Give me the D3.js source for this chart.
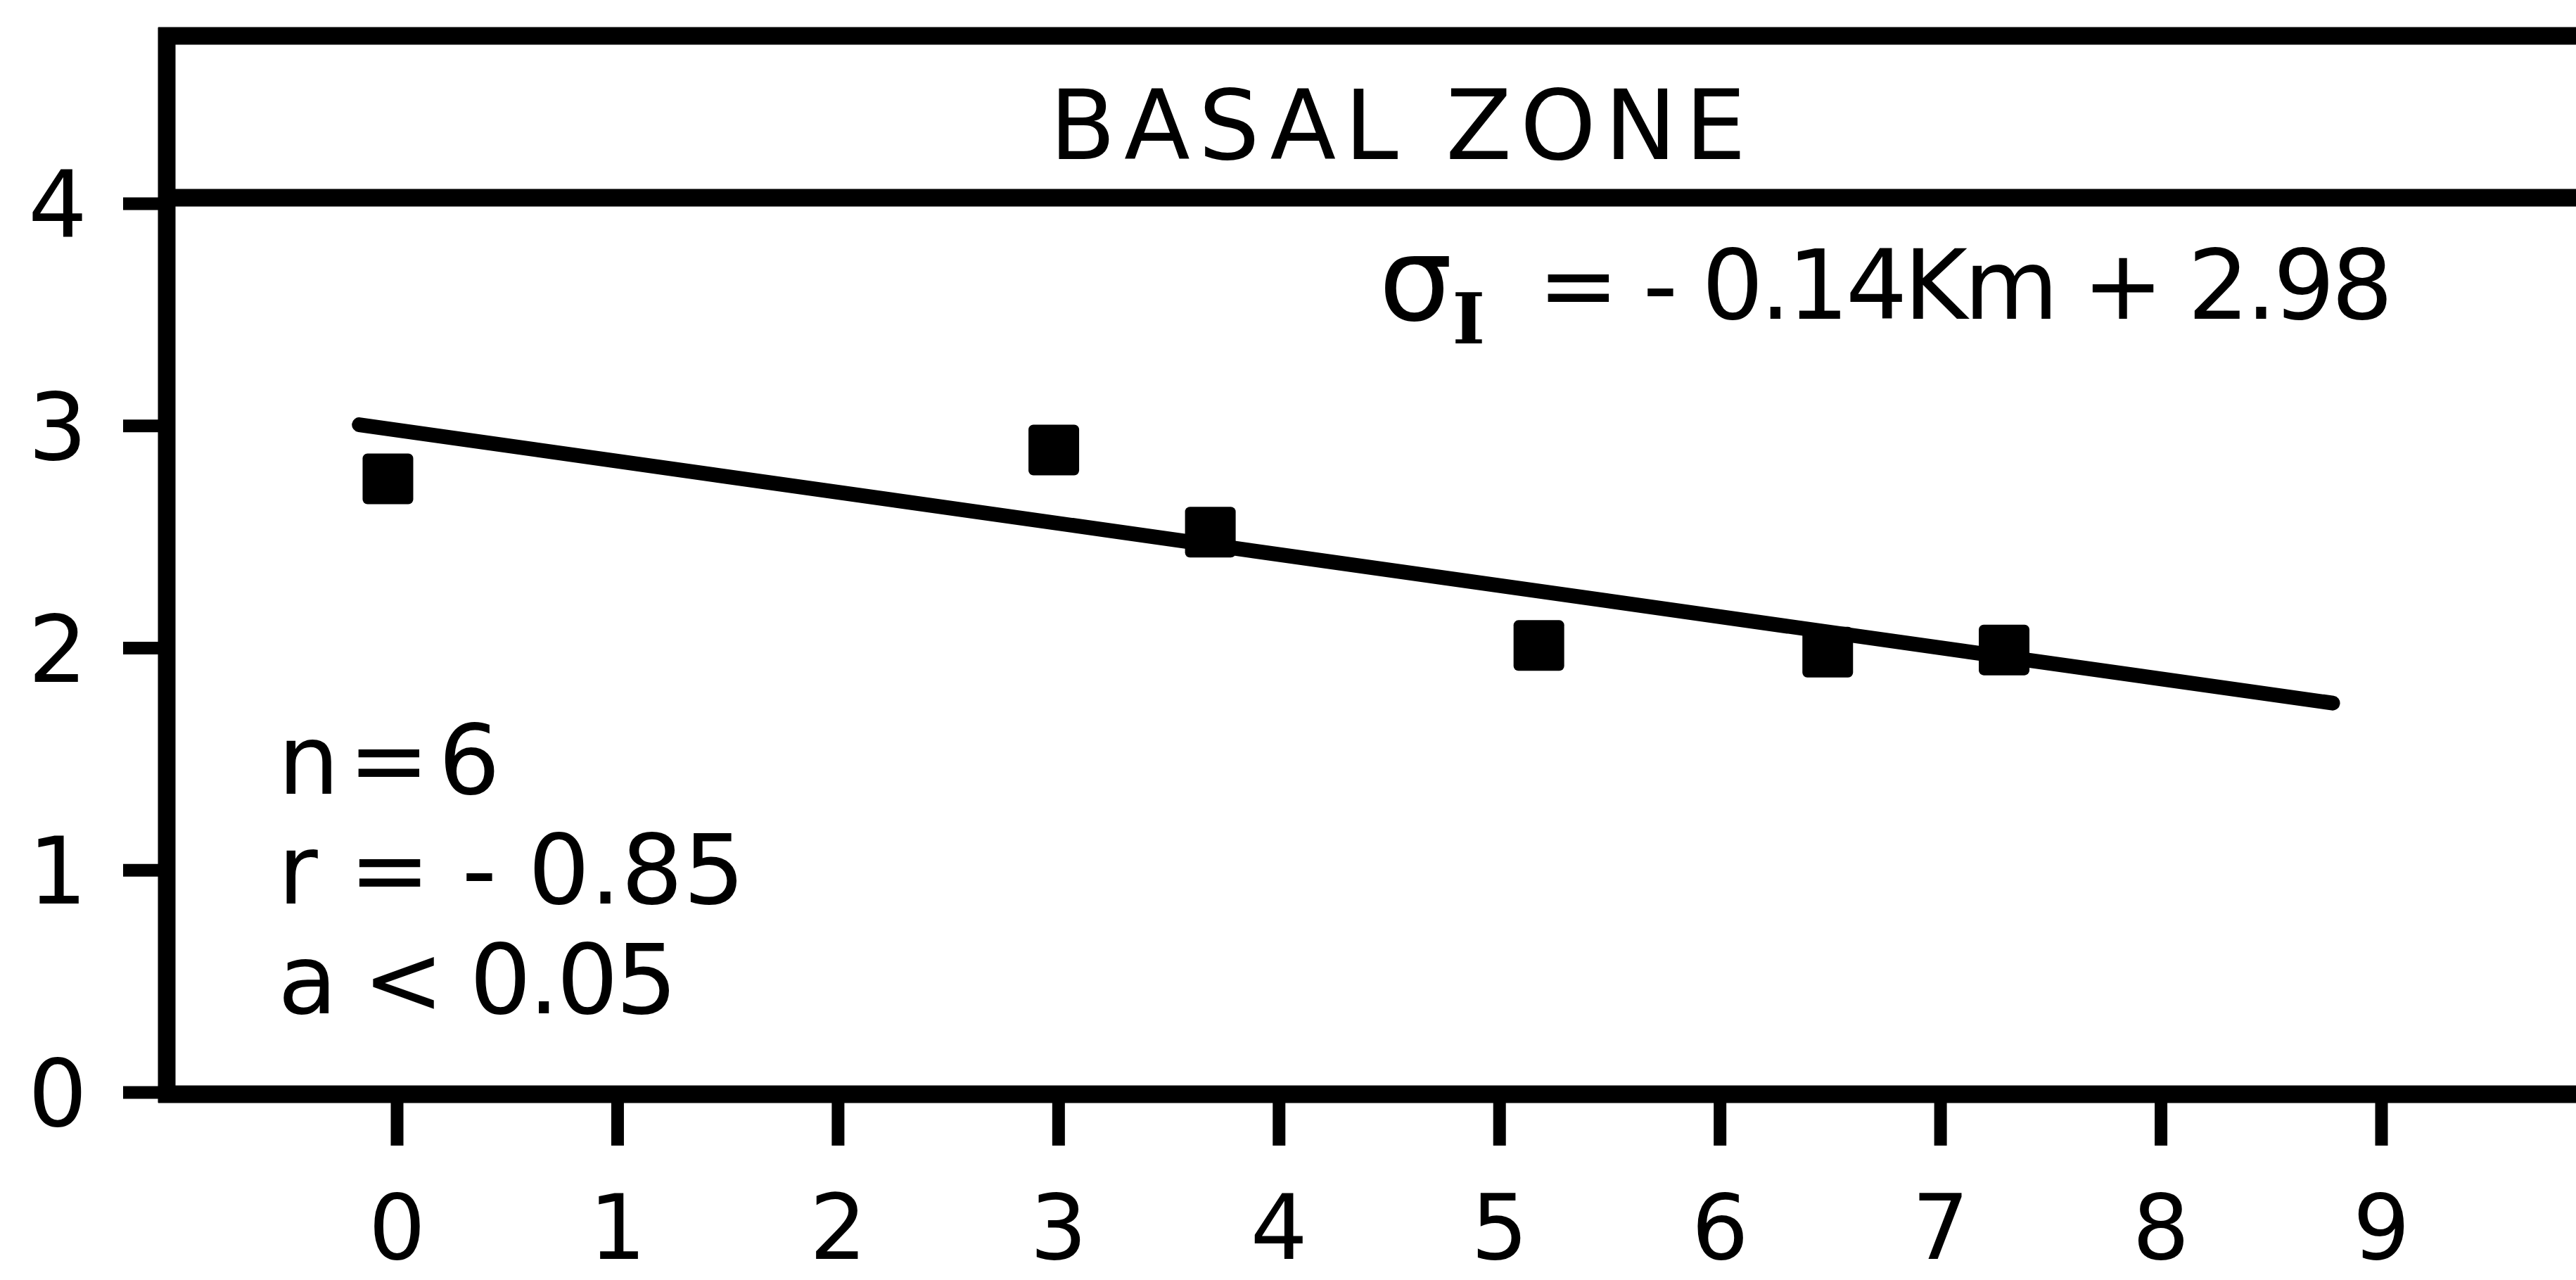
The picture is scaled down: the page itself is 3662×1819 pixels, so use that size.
<!DOCTYPE html>
<html>
<head>
<meta charset="utf-8">
<script src="https://cdn.jsdelivr.net/npm/d3@7"></script>
<style>
  body { margin: 0; background: #fff; }
  text { font-family: "DejaVu Sans", sans-serif; fill: #000; }
</style>
</head>
<body>
<div id="chart"></div>
<script>
// data
const xTicks = [0, 1, 2, 3, 4, 5, 6, 7, 8, 9];
const yTicks = [0, 1, 2, 3, 4];
const kmValues = [-0.04, 2.98, 3.69, 5.18, 6.49, 7.29];
const sigmaValues = [2.76, 2.89, 2.52, 2.01, 1.98, 1.99];
const fitSlope = -0.14;
const fitIntercept = 2.98;
const fitExtent = [-0.17, 8.78];
const titleText = "BASAL ZONE";
const equationRest = "= - 0.14Km + 2.98";
const statsLines = ["n = 6", "r = - 0.85", "a < 0.05"];

const W = 3662, H = 1819;
const axisX = 237, axisY = 1555, topY = 51, titleLineY = 281;

const svg = d3.select('#chart').append('svg')
    .attr('width', W)
    .attr('height', H);

svg.append('rect').attr('width', W).attr('height', H).attr('fill', '#fff');

const x = d3.scaleLinear().domain([0, 9]).range([564, 3385]);
const y = d3.scaleLinear().domain([0, 4]).range([1552, 289]);

// frame: top border, title separator, left axis, bottom axis
const frame = svg.append('g').attr('stroke', '#000').attr('stroke-width', 25);
frame.append('line').attr('x1', axisX - 12).attr('x2', W).attr('y1', topY).attr('y2', topY);
frame.append('line').attr('x1', axisX - 12).attr('x2', W).attr('y1', titleLineY).attr('y2', titleLineY);
frame.append('line').attr('x1', axisX).attr('x2', axisX).attr('y1', topY - 12).attr('y2', axisY + 12);
frame.append('line').attr('x1', axisX - 12).attr('x2', W).attr('y1', axisY).attr('y2', axisY);

// x axis ticks + labels
const xAxis = svg.append('g')
    .attr('transform', `translate(0,${axisY})`)
    .call(d3.axisBottom(x).tickValues(xTicks).tickSize(73).tickFormat(d3.format('d')));
xAxis.select('.domain').remove();
xAxis.selectAll('.tick line').attr('stroke', '#000').attr('stroke-width', 18);
xAxis.selectAll('.tick text')
    .attr('y', 234).attr('dy', null)
    .attr('font-size', 128)
    .attr('font-family', '"DejaVu Sans", sans-serif')
    .attr('fill', '#000');

// y axis ticks + labels
const yAxis = svg.append('g')
    .attr('transform', `translate(${axisX},0)`)
    .call(d3.axisLeft(y).tickValues(yTicks).tickSize(62).tickFormat(d3.format('d')));
yAxis.select('.domain').remove();
yAxis.selectAll('.tick line').attr('stroke', '#000').attr('stroke-width', 18);
yAxis.selectAll('.tick text')
    .attr('x', -155).attr('dy', '0.36em')
    .attr('text-anchor', 'middle')
    .attr('font-size', 132)
    .attr('font-family', '"DejaVu Sans", sans-serif')
    .attr('fill', '#000');

// title
svg.append('text')
    .attr('x', 1492).attr('y', 226)
    .attr('font-size', 137)
    .attr('textLength', 990)
    .attr('lengthAdjust', 'spacing')
    .text(titleText);

// regression line from the stated equation
svg.append('line')
    .attr('x1', x(fitExtent[0])).attr('y1', y(fitSlope * fitExtent[0] + fitIntercept))
    .attr('x2', x(fitExtent[1])).attr('y2', y(fitSlope * fitExtent[1] + fitIntercept))
    .attr('stroke', '#000').attr('stroke-width', 21).attr('stroke-linecap', 'round');

// points
const ms = 72;
svg.append('g').selectAll('rect')
    .data(kmValues.map((k, i) => ({ k, s: sigmaValues[i] })))
    .join('rect')
    .attr('x', d => x(d.k) - ms / 2)
    .attr('y', d => y(d.s) - ms / 2)
    .attr('width', ms).attr('height', ms)
    .attr('rx', 7)
    .attr('fill', '#000');

// equation: sigma with subscript I in one text, then the rest
const sig = svg.append('text').attr('x', 1960).attr('y', 455);
sig.append('tspan').attr('font-size', 165).text('σ');
sig.append('tspan').attr('dy', 33).attr('font-size', 100)
    .attr('font-family', '"DejaVu Serif", serif').attr('font-weight', 'bold').text('I');
svg.append('text').attr('x', 2186).attr('y', 453).attr('font-size', 138)
    .attr('textLength', 1216).attr('lengthAdjust', 'spacing')
    .text(equationRest);

// stats block
const statLens = [316, 664, 568];
svg.append('g').selectAll('text')
    .data(statsLines)
    .join('text')
    .attr('x', 395)
    .attr('y', (d, i) => 1128 + i * 156)
    .attr('font-size', 138)
    .attr('textLength', (d, i) => statLens[i])
    .attr('lengthAdjust', 'spacing')
    .text(d => d);
</script>
</body>
</html>
